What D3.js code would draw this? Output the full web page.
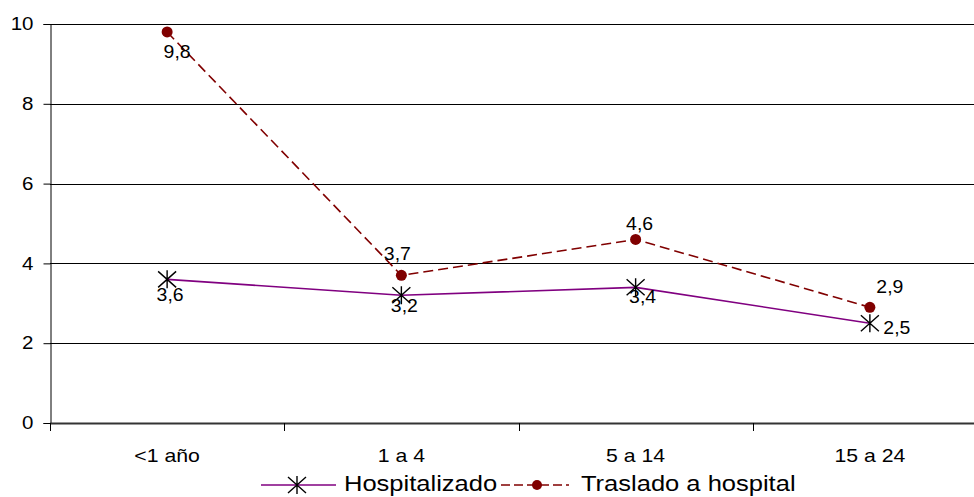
<!DOCTYPE html>
<html><head><meta charset="utf-8">
<script src="https://cdn.jsdelivr.net/npm/d3@7"></script>
<style>body{margin:0;background:#fff}svg{display:block;font-family:"Liberation Sans",Arial,sans-serif}</style>
</head><body>
<svg id="c" width="974" height="497"></svg>
<script>
const categories = ["<1 año", "1 a 4", "5 a 14", "15 a 24"];
const hospitalizado = [3.6, 3.2, 3.4, 2.5];
const traslado = [9.8, 3.7, 4.6, 2.9];
const yTicks = [0, 2, 4, 6, 8, 10];
const seriesNames = ["Hospitalizado", "Traslado a hospital"];

const FONT = "Liberation Sans, Arial, sans-serif";
const svg = d3.select("#c");
const x = d3.scaleBand().domain(categories).range([50, 987]);
const y = d3.scaleLinear().domain([0, 10]).range([423, 24]);
const cx = d => x(d) + x.bandwidth() / 2;

// horizontal stretch around the text's own anchor point
function stretch(sel, sx) {
  sel.each(function () {
    const t = d3.select(this);
    const x0 = +t.attr("x") || 0, y0 = +t.attr("y") || 0;
    t.attr("transform", `translate(${x0},${y0}) scale(${sx},1) translate(${-x0},${-y0})`);
  });
}

// gridlines
svg.append("g").selectAll("line").data(yTicks.filter(t => t > 0)).join("line")
  .attr("x1", 50).attr("x2", 974).attr("y1", d => Math.round(y(d)) + 0.5).attr("y2", d => Math.round(y(d)) + 0.5)
  .attr("stroke", "#000").attr("stroke-width", 1);

// y axis
const ya = svg.append("g").attr("transform", "translate(50.5,0)")
  .call(d3.axisLeft(y).tickValues(yTicks).tickSize(7).tickPadding(10).tickFormat(d3.format("d")));
ya.select(".domain").attr("stroke", "#000");
ya.selectAll(".tick line").attr("stroke", "#000");
ya.selectAll("text").attr("font-size", 18).attr("font-family", FONT).attr("fill", "#000").call(stretch, 1.14);

// x axis
const xa = svg.append("g").attr("transform", "translate(0,423)")
  .call(d3.axisBottom(x).tickSize(0).tickPadding(26));
xa.select(".domain").remove();
xa.selectAll("text").attr("font-size", 18).attr("font-family", FONT).attr("fill", "#000").call(stretch, 1.18);
svg.append("line").attr("x1", 50).attr("x2", 974).attr("y1", 423.5).attr("y2", 423.5)
  .attr("stroke", "#333").attr("stroke-width", 2);
svg.append("g").selectAll("line").data(categories).join("line")
  .attr("x1", d => Math.round(x(d)) + 0.5).attr("x2", d => Math.round(x(d)) + 0.5)
  .attr("y1", 423).attr("y2", 431).attr("stroke", "#000");

const line = d3.line().x((d, i) => cx(categories[i])).y(d => y(d));

// Traslado
svg.append("path").datum(traslado).attr("d", line).attr("fill", "none")
  .attr("stroke", "#800000").attr("stroke-width", 1.6).attr("stroke-dasharray", "10,5");
svg.append("g").selectAll("circle").data(traslado).join("circle")
  .attr("cx", (d, i) => cx(categories[i])).attr("cy", d => y(d)).attr("r", 5.5).attr("fill", "#800000");

// Hospitalizado
svg.append("path").datum(hospitalizado).attr("d", line).attr("fill", "none")
  .attr("stroke", "#800080").attr("stroke-width", 1.6);

function star(g, px, py) {
  g.append("path").attr("d",
    `M${px-9},${py-8}L${px+9},${py+8}M${px-9},${py+8}L${px+9},${py-8}M${px},${py-9}L${px},${py+9}`)
    .attr("stroke", "#000").attr("stroke-width", 1.4).attr("fill", "none");
}
const sg = svg.append("g");
hospitalizado.forEach((d, i) => star(sg, cx(categories[i]), y(d)));

const fmt = v => d3.format(".1f")(v).replace(".", ",");
// label offsets relative to marker (text centre x, baseline y)
const hOff = [[3, 22], [3, 17], [7, 16], [27, 11]];
const tOff = [[10, 26], [-4, -15], [4, -9.5], [20, -14]];
const lg = svg.append("g").attr("font-size", 18).attr("fill", "#000").attr("text-anchor", "middle");
hospitalizado.forEach((d, i) => lg.append("text").attr("x", cx(categories[i]) + hOff[i][0]).attr("y", y(d) + hOff[i][1]).text(fmt(d)));
traslado.forEach((d, i) => lg.append("text").attr("x", cx(categories[i]) + tOff[i][0]).attr("y", y(d) + tOff[i][1]).text(fmt(d)));
lg.selectAll("text").call(stretch, 1.08);

// legend
const leg = svg.append("g");
leg.append("line").attr("x1", 261).attr("x2", 336).attr("y1", 485).attr("y2", 485).attr("stroke", "#800080").attr("stroke-width", 1.6);
star(leg, 297, 485);
leg.append("text").attr("x", 344).attr("y", 491).attr("font-size", 22).text(seriesNames[0]);
leg.append("line").attr("x1", 501).attr("x2", 569).attr("y1", 485).attr("y2", 485).attr("stroke", "#800000").attr("stroke-width", 1.6).attr("stroke-dasharray", "9,4");
leg.append("circle").attr("cx", 537).attr("cy", 485).attr("r", 5).attr("fill", "#800000");
leg.append("text").attr("x", 581).attr("y", 491).attr("font-size", 22).text(seriesNames[1]);
leg.selectAll("text").call(stretch, 1.16);
</script>
</body></html>
